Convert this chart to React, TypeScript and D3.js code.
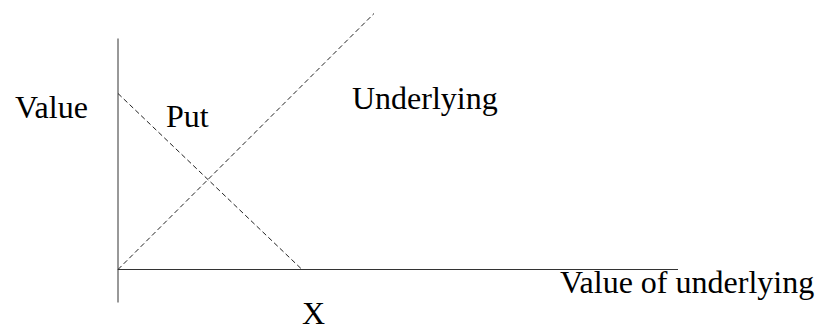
import React from "react";
import * as d3 from "d3";

const underlyingLine: [number, number][] = [[0, 0], [256, 256]];
const putLine: [number, number][] = [[0, 176], [184, 0]];
const strike = 184;
const xAxisExtent = [0, 560];
const yAxisExtent = [-33, 231];
const labels = { yTitle: "Value", xTitle: "Value of underlying", put: "Put", underlying: "Underlying", strike: "X" };

const W = 820, H = 329;

export default function App() {
  const x = d3.scaleLinear().domain([0, 560]).range([118, 678]);
  const y = d3.scaleLinear().domain([0, 256]).range([269.5, 13.5]);
  const line = d3.line<[number, number]>().x(d => x(d[0])).y(d => y(d[1]));
  const font = "'Liberation Serif', 'Times New Roman', serif";
  return (
    <svg width={W} height={H} style={{ position: "absolute", left: 0, top: 0, background: "#fff" }}>
      <line x1={x(0)} x2={x(0)} y1={y(yAxisExtent[0])} y2={y(yAxisExtent[1])} stroke="#333" strokeWidth={1} />
      <line x1={x(xAxisExtent[0])} x2={x(xAxisExtent[1])} y1={y(0)} y2={y(0)} stroke="#333" strokeWidth={1} />
      <path d={line(underlyingLine) || ""} fill="none" stroke="#222" strokeWidth={1} strokeDasharray="5,3" />
      <path d={line(putLine) || ""} fill="none" stroke="#222" strokeWidth={1} strokeDasharray="5,3" />
      <g fontFamily={font} fontSize={32} fill="#000">
        <text x={15} y={118}>{labels.yTitle}</text>
        <text x={166} y={127}>{labels.put}</text>
        <text x={352} y={109}>{labels.underlying}</text>
        <text x={560} y={293}>{labels.xTitle}</text>
        <text x={x(strike)} y={324}>{labels.strike}</text>
      </g>
    </svg>
  );
}
